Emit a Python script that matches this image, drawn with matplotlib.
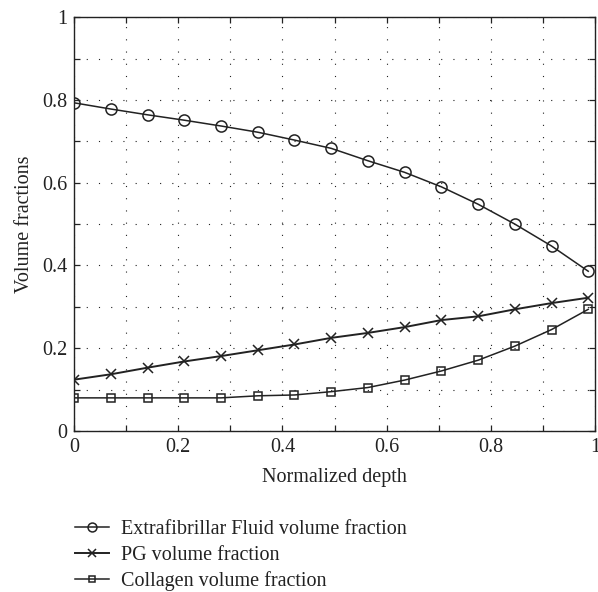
import numpy as np
import matplotlib
matplotlib.use('Agg')
import matplotlib.pyplot as plt
from matplotlib.ticker import MultipleLocator


# Data
depth = [0.0, 0.0705, 0.141, 0.2115, 0.282, 0.3525, 0.423, 0.4935,
         0.564, 0.6345, 0.705, 0.7755, 0.846, 0.9165, 0.987]
fluid = [0.793, 0.778, 0.764, 0.751, 0.737, 0.722, 0.703, 0.683,
         0.653, 0.625, 0.590, 0.548, 0.500, 0.447, 0.386]
pg = [0.124, 0.137, 0.153, 0.168, 0.181, 0.195, 0.209, 0.225,
      0.237, 0.251, 0.268, 0.277, 0.294, 0.309, 0.322]
collagen = [0.080, 0.080, 0.080, 0.080, 0.080, 0.085, 0.087, 0.095,
            0.105, 0.123, 0.145, 0.171, 0.205, 0.245, 0.294]
labels = ['Extrafibrillar Fluid volume fraction', 'PG volume fraction',
          'Collagen volume fraction']


plt.rcParams['font.family'] = ['Liberation Serif', 'DejaVu Serif']
plt.rcParams['font.size'] = 14.5

fig = plt.figure(figsize=(5.98, 5.92), dpi=100)
ax = fig.add_axes([0.124, 0.272, 0.871, 0.699])

ink = '#222222'
ax.plot(depth, fluid, color=ink, lw=1.1, marker='o', ms=8, mfc='none',
        mec=ink, mew=1.1, label=labels[0])
ax.plot(depth, pg, color=ink, lw=1.4, marker='x', ms=7, mec=ink,
        mew=1.1, label=labels[1])
ax.plot(depth, collagen, color=ink, lw=1.1, marker='s', ms=5.5, mfc='none',
        mec=ink, mew=1.1, label=labels[2])

ax.set_xlim(0, 1)
ax.set_ylim(0, 1)
ax.xaxis.set_major_locator(MultipleLocator(0.2))
ax.yaxis.set_major_locator(MultipleLocator(0.2))
ax.xaxis.set_minor_locator(MultipleLocator(0.1))
ax.yaxis.set_minor_locator(MultipleLocator(0.1))
ax.xaxis.set_major_formatter(plt.FuncFormatter(lambda v, p: '%g' % round(v, 1)))
ax.yaxis.set_major_formatter(plt.FuncFormatter(lambda v, p: '%g' % round(v, 1)))

ax.tick_params(which='both', direction='in', top=True, right=True,
               length=4, width=0.9, color=ink, labelcolor=ink, pad=5)
ax.grid(which='both', color=ink, lw=0.8, ls=(0, (1, 10)))
for s in ax.spines.values():
    s.set_linewidth(1.0)
    s.set_color(ink)

ax.set_xlabel('Normalized depth', color=ink, labelpad=8)
ax.set_ylabel('Volume fractions', color=ink, labelpad=6)

fig.legend(loc='upper left', bbox_to_anchor=(0.125, 0.122), frameon=False,
           borderpad=0, borderaxespad=0,
           markerscale=0.8, handlelength=1.7, handletextpad=0.6,
           labelspacing=0.33, labelcolor=ink)

fig.savefig('out.png', dpi=100)
